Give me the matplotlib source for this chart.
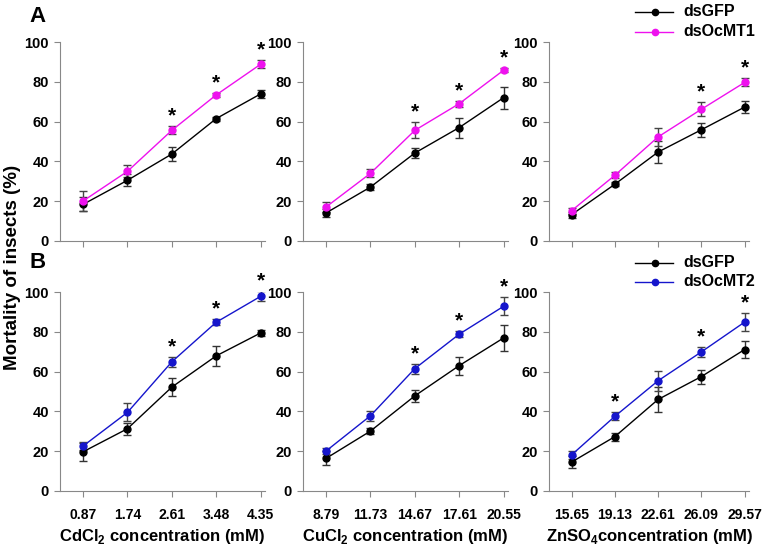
# Mortality of insects after dsRNA treatment, two rows of three metals

import numpy as np
import matplotlib.pyplot as plt

plt.rcParams['font.family'] = ['Liberation Sans', 'DejaVu Sans']
plt.rcParams['font.weight'] = 'bold'
plt.rcParams['mathtext.fontset'] = 'custom'
plt.rcParams['mathtext.rm'] = 'Liberation Sans:bold'
plt.rcParams['mathtext.bf'] = 'Liberation Sans:bold'

# x categories
cd_conc = ["0.87", "1.74", "2.61", "3.48", "4.35"]
cu_conc = ["8.79", "11.73", "14.67", "17.61", "20.55"]
zn_conc = ["15.65", "19.13", "22.61", "26.09", "29.57"]

# panel A: dsGFP vs dsOcMT1
a_cd_gfp = [18.4, 30.5, 43.7, 61.5, 73.9]
a_cd_gfp_err = [3.5, 3.0, 3.4, 1.0, 2.0]
a_cd_mt = [20.1, 35.0, 55.6, 73.4, 88.8]
a_cd_mt_err = [5.0, 3.0, 2.0, 1.0, 2.0]

a_cu_gfp = [14.1, 27.1, 44.2, 57.0, 72.0]
a_cu_gfp_err = [2.0, 1.5, 2.5, 5.0, 5.5]
a_cu_mt = [17.1, 34.0, 55.6, 69.0, 85.8]
a_cu_mt_err = [2.5, 2.0, 4.0, 1.5, 1.0]

a_zn_gfp = [13.2, 28.5, 44.7, 55.9, 67.3]
a_zn_gfp_err = [1.5, 1.0, 5.5, 3.5, 3.0]
a_zn_mt = [15.2, 33.0, 52.3, 66.2, 79.7]
a_zn_mt_err = [1.5, 1.5, 4.5, 3.5, 2.0]

# panel B: dsGFP vs dsOcMT2
b_cd_gfp = [19.7, 31.3, 52.2, 67.9, 79.4]
b_cd_gfp_err = [4.5, 3.0, 4.5, 5.0, 1.5]
b_cd_mt = [22.6, 39.5, 64.9, 84.8, 97.8]
b_cd_mt_err = [2.0, 4.5, 2.5, 1.5, 2.5]

b_cu_gfp = [16.4, 30.1, 47.8, 63.0, 76.9]
b_cu_gfp_err = [3.5, 1.5, 3.0, 4.5, 6.5]
b_cu_mt = [20.1, 37.8, 61.5, 78.8, 92.8]
b_cu_mt_err = [1.5, 2.5, 2.5, 1.5, 4.5]

b_zn_gfp = [14.5, 27.3, 46.0, 57.5, 71.1]
b_zn_gfp_err = [3.0, 2.0, 6.5, 3.5, 4.5]
b_zn_mt = [18.1, 37.5, 55.4, 69.9, 84.9]
b_zn_mt_err = [2.0, 2.0, 5.0, 2.5, 4.5]

# which points get a star
a_cd_sig = [2, 3, 4]
a_cu_sig = [2, 3, 4]
a_zn_sig = [3, 4]
b_cd_sig = [2, 3, 4]
b_cu_sig = [2, 3, 4]
b_zn_sig = [1, 3, 4]

magenta = '#ee11ee'
blue = '#1515cc'
W, H = 774.0, 549.0

fig = plt.figure(figsize=(7.74, 5.49), dpi=100)

def panel(left, top_px, width, ctrl, ctrl_err, trt, trt_err, sig, color, xt=None, xlab=None):
    ax = fig.add_axes([left / W, (H - top_px - 199) / H, width / W, 199 / H])
    x = np.arange(5)
    ax.errorbar(x, ctrl, yerr=ctrl_err, color='black', ecolor='#333333', lw=1.0,
                elinewidth=1.0, capsize=3, marker='o', ms=5, label='dsGFP')
    ax.errorbar(x, trt, yerr=trt_err, color=color, ecolor='#444444', lw=1.0,
                elinewidth=1.0, capsize=3, marker='o', ms=5, mfc=color, mec=color)
    for i in sig:
        ax.text(i, trt[i] + trt_err[i] + 0.3, '*', ha='center', va='bottom',
                fontsize=15, fontweight='bold')
    ax.set_xlim(-0.52, 4.1)
    ax.set_ylim(0, 100)
    ax.set_yticks([0, 20, 40, 60, 80, 100])
    ax.set_xticks(x)
    if xt is None:
        ax.set_xticklabels([])
    else:
        ax.set_xticklabels(xt)
    for s in ['top', 'right']:
        ax.spines[s].set_visible(False)
    for s in ['left', 'bottom']:
        ax.spines[s].set_color('#888888')
        ax.spines[s].set_linewidth(0.8)
    ax.tick_params(colors='#888888', labelcolor='black', length=4, width=0.8)
    ax.tick_params(axis='y', labelsize=10.5, pad=4)
    ax.tick_params(axis='x', labelsize=10, pad=8)
    for lab in ax.get_xticklabels() + ax.get_yticklabels():
        lab.set_fontweight('bold')
    if xlab:
        ax.set_xlabel(xlab, fontsize=12, fontweight='bold', labelpad=4)
    return ax

panel(60, 42, 205, a_cd_gfp, a_cd_gfp_err, a_cd_mt, a_cd_mt_err, a_cd_sig, magenta)
panel(303, 42, 205, a_cu_gfp, a_cu_gfp_err, a_cu_mt, a_cu_mt_err, a_cu_sig, magenta)
panel(549, 42, 200, a_zn_gfp, a_zn_gfp_err, a_zn_mt, a_zn_mt_err, a_zn_sig, magenta)
panel(60, 292, 205, b_cd_gfp, b_cd_gfp_err, b_cd_mt, b_cd_mt_err, b_cd_sig, blue,
      cd_conc, r'CdCl$_2$ concentration (mM)')
panel(303, 292, 205, b_cu_gfp, b_cu_gfp_err, b_cu_mt, b_cu_mt_err, b_cu_sig, blue,
      cu_conc, r'CuCl$_2$ concentration (mM)')
panel(549, 292, 200, b_zn_gfp, b_zn_gfp_err, b_zn_mt, b_zn_mt_err, b_zn_sig, blue,
      zn_conc, r'ZnSO$_4$concentration (mM)')

# legends drawn by hand at top right of each row
def legend(y1, y2, color, name):
    for yy, c, txt in [(y1, 'black', 'dsGFP'), (y2, color, name)]:
        fig.lines.append(plt.Line2D([635 / W, 673 / W], [1 - yy / H, 1 - yy / H],
                                    color=c, lw=1.0, transform=fig.transFigure))
        fig.lines.append(plt.Line2D([655 / W], [1 - yy / H], color=c, marker='o', ms=4.5,
                                    transform=fig.transFigure))
        fig.text(683 / W, 1 - yy / H, txt, fontsize=11.5, fontweight='bold', va='center')

legend(12, 32, magenta, 'dsOcMT1')
legend(263, 282, blue, 'dsOcMT2')

fig.text(38 / W, 1 - 17 / H, 'A', fontsize=16, fontweight='bold', ha='center', va='center')
fig.text(38 / W, 1 - 263 / H, 'B', fontsize=16, fontweight='bold', ha='center', va='center')
fig.text(13 / W, 1 - 267 / H, 'Mortality of insects (%)', fontsize=13.5, fontweight='bold',
         rotation=90, ha='center', va='center')

plt.savefig('out.png', dpi=100)
